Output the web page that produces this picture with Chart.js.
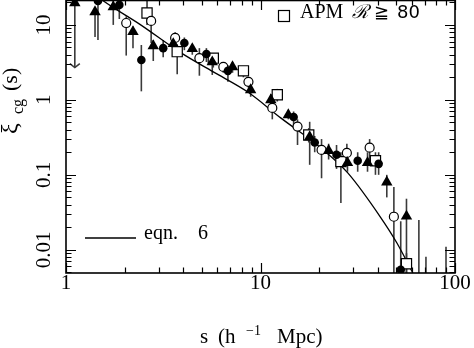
<!DOCTYPE html>
<html>
<head>
<meta charset="utf-8">
<script src="https://cdn.jsdelivr.net/npm/chart.js@4.4.1/dist/chart.umd.min.js"></script>
<style>
  html, body { margin: 0; padding: 0; background: #fff; }
</style>
</head>
<body>
<canvas id="xi" width="474" height="348"></canvas>
<script>
// filled triangles
const triS  = [1.11, 1.41, 1.75, 2.21, 2.81, 3.56, 4.46, 5.65, 7.18, 8.9, 11.3, 13.9, 17.9, 22.4, 28.0, 35.5, 44.6, 56.3];
const triXi = [19.7, 14.9, 17.4, 8.1, 5.25, 5.6, 4.8, 3.2, 2.75, 1.36, 1.0, 0.63, 0.32, 0.21, 0.145, 0.145, 0.08, 0.028];
const triLo = [2.7, 6.9, 10, 4.9, 3.3, 4.5, 4.0, 2.15, 2.3, 1.1, 0.8, 0.55, 0.136, 0.16, 0.11, 0.11, 0.05, 0.004];
const triHi = [25, 17.4, 22, 9.5, 6.3, 6.5, 5.5, 3.8, 3.2, 1.6, 1.2, 0.72, 0.51, 0.26, 0.2, 0.2, 0.1, 0.048];

// filled circles
const fcS  = [1.46, 1.88, 2.44, 3.16, 4.06, 5.27, 6.8, 14.8, 19.0, 24.6, 31.6, 40.5, 52.6];
const fcXi = [20.9, 18.5, 3.4, 4.9, 5.75, 4.1, 2.44, 0.59, 0.27, 0.185, 0.154, 0.14, 0.0054];
const fcLo = [6.3, 12, 1.3, 3.7, 4.6, 3.2, 1.75, 0.45, 0.2, 0.12, 0.11, 0.1, 0.004];
const fcHi = [23, 22, 5.4, 6.3, 6.8, 4.9, 2.9, 0.7, 0.33, 0.25, 0.2, 0.2, 0.024];

// open circles
const ocS  = [2.04, 2.74, 3.64, 4.85, 6.44, 8.67, 11.5, 15.5, 20.6, 27.8, 36.4, 48.5];
const ocXi = [10.6, 11.3, 6.7, 3.6, 2.75, 1.74, 0.78, 0.44, 0.215, 0.196, 0.23, 0.0276];
const ocLo = [3.9, 5.75, 4.9, 2.1, 2.3, 1.45, 0.55, 0.25, 0.09, 0.13, 0.14, 0.004];
const ocHi = [13, 14, 8, 4.9, 3.2, 2.0, 0.95, 0.55, 0.3, 0.26, 0.3, 0.069];

// open squares, APM R>=80
const sqS  = [2.61, 3.73, 5.72, 8.17, 12.2, 17.7, 25.9, 39.0, 56.3];
const sqXi = [14.4, 4.4, 3.6, 2.44, 1.17, 0.34, 0.15, 0.154, 0.0065];
const sqLo = [10, 2.2, 2.7, 2.0, 0.95, 0.27, 0.042, 0.1, 0.004];
const sqHi = [25, 5.5, 4.2, 2.8, 1.4, 0.42, 0.2, 0.2, 0.009];

// error bars of points that fall below the axis
const barS  = [65.2, 70.9, 89.9];
const barHi = [0.025, 0.0081, 0.011];

// eqn. 6 curve
const eqS  = [1.4, 1.533, 2.41, 3.87, 5.72, 8.57, 12.7, 20.4, 28.1, 41.6, 50.2, 60.7];
const eqXi = [26, 21.5, 10.1, 4.3, 2.36, 1.28, 0.575, 0.229, 0.106, 0.0267, 0.0124, 0.0049];

const xTicks = [1, 10, 100];
const yTicks = [0.01, 0.1, 1, 10];

const serif = '"Liberation Serif", "DejaVu Serif", serif';

function pts(xs, ys) { return xs.map((v, i) => ({ x: v, y: ys[i] })); }
function near(v, list) { return list.some(t => Math.abs(Math.log10(v) - Math.log10(t)) < 1e-6); }

const paper = {
    id: 'paper',
    beforeDatasetsDraw(chart) {
        const { ctx, chartArea: a, scales: { x, y } } = chart;
        ctx.save();
        ctx.beginPath();
        ctx.rect(a.left, a.top, a.right - a.left, a.bottom - a.top);
        ctx.clip();
        ctx.strokeStyle = '#3a3a3a';
        ctx.lineWidth = 1.6;
        const bar = (s, lo, hi) => {
            const px = x.getPixelForValue(s);
            ctx.beginPath();
            ctx.moveTo(px, y.getPixelForValue(lo));
            ctx.lineTo(px, y.getPixelForValue(hi));
            ctx.stroke();
        };
        chart.data.datasets.forEach(ds => {
            if (!ds.errLo) return;
            ds.data.forEach((p, i) => bar(p.x, ds.errLo[i], ds.errHi[i]));
        });
        barS.forEach((s, i) => bar(s, 0.001, barHi[i]));
        // upper-limit arrow on the first triangle
        const ax = x.getPixelForValue(triS[0]), ay = y.getPixelForValue(triLo[0]);
        ctx.beginPath();
        ctx.moveTo(ax - 5, ay - 4);
        ctx.lineTo(ax, ay);
        ctx.lineTo(ax + 5, ay - 4);
        ctx.stroke();
        ctx.restore();
    },
    afterDraw(chart) {
        const { ctx, chartArea: a, scales: { x, y } } = chart;
        ctx.save();
        ctx.strokeStyle = '#000';
        ctx.lineWidth = 1.2;
        // inward ticks on all four sides
        ctx.beginPath();
        for (let e = -3; e <= 2; e++) {
            for (let m = 1; m <= 9; m++) {
                const v = m * Math.pow(10, e);
                const len = m === 1 ? 10 : 5.5;
                if (v >= x.min && v <= x.max) {
                    const px = Math.round(x.getPixelForValue(v)) + 0.5;
                    ctx.moveTo(px, a.bottom); ctx.lineTo(px, a.bottom - len);
                    ctx.moveTo(px, a.top); ctx.lineTo(px, a.top + len);
                }
                if (v >= y.min && v <= y.max) {
                    const py = Math.round(y.getPixelForValue(v)) + 0.5;
                    ctx.moveTo(a.left, py); ctx.lineTo(a.left + len, py);
                    ctx.moveTo(a.right, py); ctx.lineTo(a.right - len, py);
                }
            }
        }
        ctx.stroke();
        ctx.lineWidth = 1.6;
        ctx.strokeRect(a.left, a.top + 0.5, a.right - a.left, a.bottom - a.top - 0.5);

        ctx.fillStyle = '#000';
        ctx.textBaseline = 'alphabetic';
        ctx.textAlign = 'left';

        // legend: APM
        ctx.lineWidth = 1.2;
        ctx.strokeRect(278.5, 10.5, 11, 11);
        ctx.font = '20px ' + serif;
        ctx.fillText('APM', 300, 18);
        ctx.font = 'italic 19px "DejaVu Serif", serif';
        ctx.fillText('\u211B', 352, 18);
        ctx.font = '18px "DejaVu Sans", sans-serif';
        ctx.fillText('\u2267', 374, 18);
        ctx.fillText('80', 397, 18);

        // legend: eqn. 6
        ctx.lineWidth = 1.3;
        ctx.beginPath();
        ctx.moveTo(85, 238); ctx.lineTo(136, 238);
        ctx.stroke();
        ctx.font = '20px ' + serif;
        ctx.fillText('eqn.', 144, 239);
        ctx.fillText('6', 198, 239);

        // x title
        ctx.font = '21px ' + serif;
        ctx.fillText('s', 200, 343);
        ctx.fillText('(h', 218, 343);
        ctx.fillText('Mpc)', 277, 343);
        ctx.font = '14px ' + serif;
        ctx.fillText('\u22121', 246, 335);

        // y title, rotated
        ctx.translate(17, 134);
        ctx.rotate(-Math.PI / 2);
        ctx.font = '24px ' + serif;
        ctx.fillText('\u03BE', 0, 0);
        ctx.font = '16px ' + serif;
        ctx.fillText('cg', 20, 6);
        ctx.font = '22px ' + serif;
        ctx.fillText('(s)', 43, 0);
        ctx.restore();
    }
};

new Chart(document.getElementById('xi'), {
    type: 'scatter',
    data: {
        datasets: [
            { data: pts(fcS, fcXi), errLo: fcLo, errHi: fcHi, pointStyle: 'circle', pointRadius: 4.3,
              backgroundColor: '#000', borderColor: '#000', borderWidth: 0 },
            { data: pts(triS, triXi), errLo: triLo, errHi: triHi, pointStyle: 'triangle', pointRadius: 6.6,
              backgroundColor: '#000', borderColor: '#000', borderWidth: 0 },
            { data: pts(ocS, ocXi), errLo: ocLo, errHi: ocHi, pointStyle: 'circle', pointRadius: 4.5,
              backgroundColor: '#fff', borderColor: '#000', borderWidth: 1.2 },
            { data: pts(sqS, sqXi), errLo: sqLo, errHi: sqHi, pointStyle: 'rect', pointRadius: 7.2,
              backgroundColor: '#fff', borderColor: '#000', borderWidth: 1.2 },
            { type: 'line', data: pts(eqS, eqXi), showLine: true, pointRadius: 0, borderColor: '#000',
              borderWidth: 1.3, fill: false, cubicInterpolationMode: 'monotone' }
        ]
    },
    options: {
        responsive: false,
        animation: false,
        events: [],
        layout: { autoPadding: false, padding: { top: 0, left: 0, right: 19, bottom: 0 } },
        plugins: { legend: { display: false }, tooltip: { enabled: false } },
        scales: {
            x: {
                type: 'logarithmic', min: 1, max: 100,
                grid: { display: false, drawTicks: false },
                border: { display: false },
                afterFit: s => { s.height = 75; s.paddingLeft = 0; s.paddingRight = 0; },
                ticks: {
                    autoSkip: false, maxRotation: 0, padding: 0, color: '#000',
                    font: { family: serif, size: 21, lineHeight: 1 },
                    callback: v => near(v, xTicks) ? String(Math.round(v)) : ''
                }
            },
            y: {
                type: 'logarithmic', min: 0.0049, max: 21.5,
                grid: { display: false, drawTicks: false },
                border: { display: false },
                afterFit: s => { s.width = 66; s.paddingTop = 0; s.paddingBottom = 0; },
                ticks: {
                    autoSkip: false, minRotation: 90, maxRotation: 90, crossAlign: 'center', padding: 3,
                    color: '#000', font: { family: serif, size: 21 },
                    callback: v => {
                        if (!near(v, yTicks)) return '';
                        const e = Math.round(Math.log10(v));
                        return e >= 0 ? String(Math.pow(10, e)) : '0.' + '0'.repeat(-e - 1) + '1';
                    }
                }
            }
        }
    },
    plugins: [paper]
});
</script>
</body>
</html>
